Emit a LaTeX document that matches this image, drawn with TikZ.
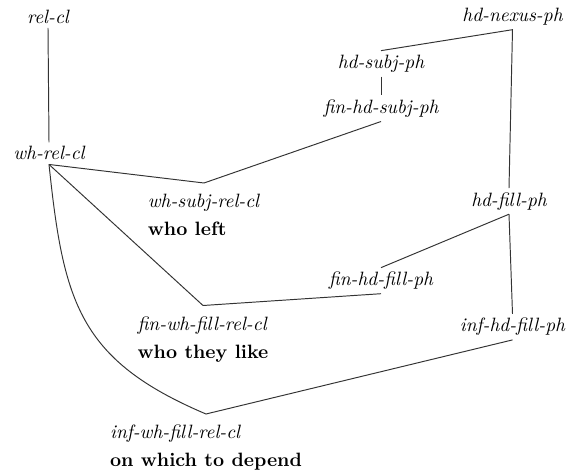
\documentclass[tikz,border=0pt]{standalone}
\begin{document}
\begin{tikzpicture}[x=0.518pt,y=-0.518pt,
  cat/.style={font=\itshape, inner sep=0pt, outer sep=2.2pt, anchor=base},
  ex/.style={align=left, inner sep=0pt, outer xsep=0pt, outer ysep=5.8pt, anchor=north},
  link/.style={draw=black!80, line width=0.5pt}]
\useasboundingbox (0,0) rectangle (570,473);
% single-line category nodes (placed by baseline)
\node[cat] (relcl)     at (48,23.3)  {rel-cl};
\node[cat] (whrelcl)   at (49,160)   {wh-rel-cl};
\node[cat] (hdnexus)   at (512.5,21.7) {hd-nexus-ph};
\node[cat] (hdsubj)    at (381,68.3) {hd-subj-ph};
\node[cat] (finhdsubj) at (381,113.3) {fin-hd-subj-ph};
\node[cat] (hdfill)    at (509,206)  {hd-fill-ph};
\node[cat] (finhdfill) at (381,285.5) {fin-hd-fill-ph};
\node[cat] (infhdfill) at (512.5,331.7) {inf-hd-fill-ph};
% two-line nodes with examples (placed by top point)
\node[ex] (whsubj) at (204,183) {\textit{wh-subj-rel-cl}\\[2.5pt]\textbf{who left}};
\node[ex] (finwh)  at (203,305.5) {\textit{fin-wh-fill-rel-cl}\\[2.5pt]\textbf{who they like}};
\node[ex] (infwh)  at (206,414) {\textit{inf-wh-fill-rel-cl}\\[2.5pt]\textbf{on which to depend}};
% connectors
\draw[link] (relcl.south) -- (whrelcl.north);
\draw[link] (whrelcl.south) -- (whsubj.north) -- (finhdsubj.south);
\draw[link] (hdsubj.south) -- (finhdsubj.north);
\draw[link] (hdsubj.north) -- (hdnexus.south) -- (hdfill.north);
\draw[link] (hdfill.south) -- (finhdfill.north);
\draw[link] (hdfill.south) -- (infhdfill.north);
\draw[link] (whrelcl.south) -- (finwh.north) -- (finhdfill.south);
\draw[link] (whrelcl.south) to[out=-84,in=157,looseness=1.2] (infwh.north) -- (infhdfill.south);
\end{tikzpicture}
\end{document}
